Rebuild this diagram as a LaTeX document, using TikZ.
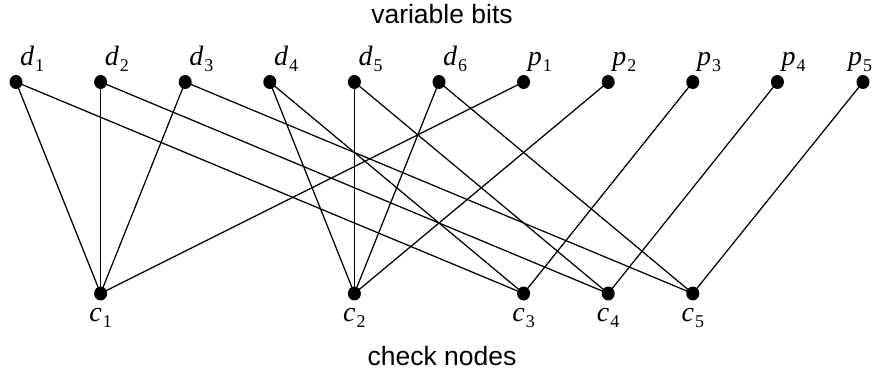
\documentclass[tikz,border=0pt]{standalone}
\usepackage{fontspec}
\setmainfont{Liberation Serif}
\newfontfamily\titlefont{Liberation Sans}
\usetikzlibrary{shapes.geometric}
\newcommand{\lbl}[2]{{\fontsize{28}{28}\selectfont\itshape #1}\kern1pt\raisebox{-6pt}{\fontsize{18}{18}\selectfont #2}}
\tikzset{
  bit/.style={ellipse,fill=black,draw=none,inner sep=0pt,minimum width=13pt,minimum height=14pt},
  edge/.style={line width=1.25pt,black},
  toplbl/.style={anchor=base west,inner sep=0pt},
  botlbl/.style={anchor=base,inner sep=0pt},
  title/.style={anchor=base,inner sep=0pt,font=\titlefont\fontsize{26.5}{26.5}\selectfont}
}
\begin{document}
\begin{tikzpicture}[x=1pt,y=-1pt]
\useasboundingbox (0,0) rectangle (879,374);
% top nodes
\foreach \n/\x/\dx/\l/\s in {d1/16/4/d/1, d2/100.6/4/d/2, d3/185.2/4/d/3, d4/269.8/4/d/4, d5/354.4/4/d/5, d6/439/4/d/6, p1/523.6/4/p/1, p2/608.2/4/p/2, p3/692.8/4/p/3, p4/777.4/4/p/4, p5/863/-15/p/5}{
  \node[bit] (\n) at (\x,82) {};
  \node[toplbl] (\n l) at (\x+\dx,66) {\lbl{\l}{\s}};
}
% bottom nodes
\foreach \n/\x/\s in {c1/100.6/1, c2/354.4/2, c3/523.6/3, c4/608.2/4, c5/692.8/5}{
  \node[bit] (\n) at (\x,293.5) {};
  \node[botlbl] (\n l) at (\x,322) {\lbl{c}{\s}};
}
% edges
\foreach \a/\b in {d1/c1, d2/c1, d3/c1, p1/c1,
                   d4/c2, d5/c2, d6/c2, p2/c2,
                   d1/c3, d4/c3, p3/c3,
                   d2/c4, d5/c4, p4/c4,
                   d3/c5, d6/c5, p5/c5}{
  \draw[edge] (\a.center) -- (\b.center);
}
\node[title] (vb) at (442,24) {variable bits};
\node[title] (cn) at (442,365) {check nodes};
\end{tikzpicture}
\end{document}
